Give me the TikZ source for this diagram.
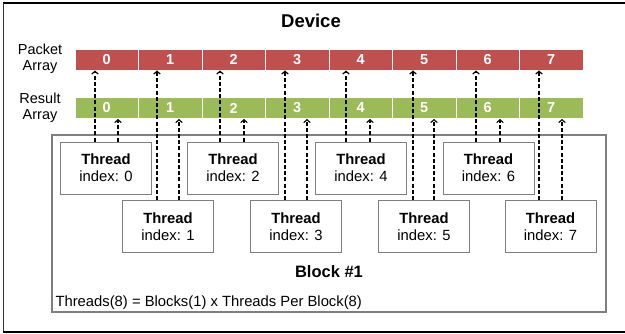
\documentclass[tikz,border=0pt]{standalone}
\usepackage{fontspec}
\setmainfont{Liberation Sans}
\usetikzlibrary{arrows.meta}
\definecolor{pktred}{HTML}{C0504D}
\definecolor{resgreen}{HTML}{9BBB59}
\definecolor{boxgray}{HTML}{7F7F7F}
\begin{document}
\begin{tikzpicture}[x=1pt,y=-1pt,
  cell/.style={draw=white,line width=0.8pt,minimum width=63.5pt,minimum height=21pt,
    inner sep=0pt,text=white,font=\fontsize{14.5}{14}\selectfont\bfseries},
  pcell/.style={cell,fill=pktred},
  rcell/.style={cell,fill=resgreen},
  threadbox/.style={draw=boxgray,line width=0.9pt,fill=white,minimum width=91pt,
    minimum height=52pt,inner sep=0pt,align=center,
    font=\fontsize{14.8}{17}\selectfont},
  rowlabel/.style={align=center,font=\fontsize{14.5}{16}\selectfont},
  link/.style={dashed,dash pattern=on 4pt off 2.2pt,line width=1.1pt,
    -{Straight Barb[length=3pt,width=6.5pt,line width=1.1pt]}},
]
\useasboundingbox (0,0) rectangle (625,334);
% device frame (open on the right)
\draw[line width=2.6pt] (3,3) -- (627,3);
\draw[line width=1.8pt,black!80] (3.5,3) -- (3.5,332);
\draw[line width=2pt] (3,332) -- (627,332);
\node[font=\fontsize{18.5}{18}\selectfont\bfseries] (title) at (311,21) {Device};

% row labels
\node[rowlabel] (plabel) at (40,59) {Packet\\Array};
\node[rowlabel] (rlabel) at (40,107.5) {Result\\Array};

% packet and result arrays
\foreach \i in {0,...,7}{
  \node[pcell] (p\i) at ({75+63.5*(\i+0.5)},59.5) {\i};
  \node[rcell] (r\i) at ({75+63.5*(\i+0.5)},108) {\i};
}

% block container
\node[draw=boxgray,line width=1.4pt,minimum width=554pt,minimum height=177pt,inner sep=0pt]
  (block) at (329,223.5) {};
\node[font=\fontsize{16.5}{16}\selectfont\bfseries] (blocktitle) at (329,272) {Block \#1};
\node[anchor=west,font=\fontsize{14.8}{14}\selectfont] (formula) at (52,303)
  {Threads(8) = Blocks(1) x Threads Per Block(8)};

% threads
\node[threadbox] (t0) at (106,168) {\textbf{Thread}\\index: 0};
\node[threadbox] (t2) at (233,168) {\textbf{Thread}\\index: 2};
\node[threadbox] (t4) at (361,168) {\textbf{Thread}\\index: 4};
\node[threadbox] (t6) at (488.5,168) {\textbf{Thread}\\index: 6};
\node[threadbox] (t1) at (168,226.5) {\textbf{Thread}\\index: 1};
\node[threadbox] (t3) at (296,226.5) {\textbf{Thread}\\index: 3};
\node[threadbox] (t5) at (424,226.5) {\textbf{Thread}\\index: 5};
\node[threadbox] (t7) at (550.5,226.5) {\textbf{Thread}\\index: 7};

% each thread reads its packet and writes its result
\foreach \k/\px/\rx in {0/95/118, 1/157/179, 2/220/244, 3/285/307,
                        4/346/370, 5/413/434, 6/476/500, 7/539/562}{
  \draw[link] (t\k.north -| \px,0) -- (p\k.south -| \px,0);
  \draw[link] (t\k.north -| \rx,0) -- (r\k.south -| \rx,0);
}
\end{tikzpicture}
\end{document}
